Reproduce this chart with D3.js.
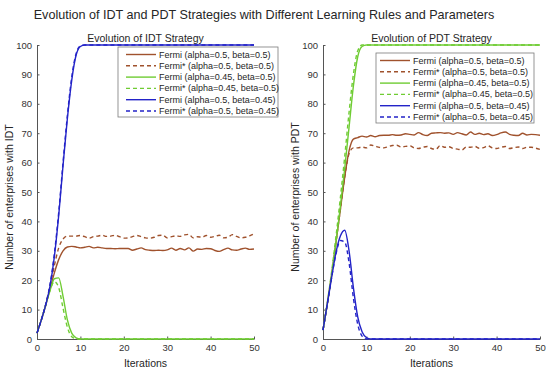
<!DOCTYPE html>
<html>
<head>
<meta charset="UTF-8">
<title>IDT and PDT Strategies</title>
<script src="https://d3js.org/d3.v7.min.js"></script>
<style>
  body { margin: 0; background: #fff; }
  text { font-family: "Liberation Sans", Arial, sans-serif; fill: #262626; }
  .axis path, .axis line { stroke: #555; }
  .axis text { font-size: 9.5px; fill: #333; }
  .series { fill: none; stroke-width: 1.4px; }
</style>
</head>
<body>
<svg width="550" height="375"></svg>
<script>
// iterations 0..50
var iterations = d3.range(0, 51);

var seriesNames = [
  "Fermi (alpha=0.5, beta=0.5)",
  "Fermi* (alpha=0.5, beta=0.5)",
  "Fermi (alpha=0.45, beta=0.5)",
  "Fermi* (alpha=0.45, beta=0.5)",
  "Fermi (alpha=0.5, beta=0.45)",
  "Fermi* (alpha=0.5, beta=0.45)"
];

// ---- IDT panel ----
var idtFermi_a05_b05 = [2,6.5,11.5,17,22.5,27,30,31.3,31.5,31.3,31,31.2,31.5,31,31.2,31,30.8,30.8,30.7,30.8,30.8,30.8,30.2,30.6,31,30.4,30.2,30.1,30.2,30.1,30.3,30.9,30.2,30.8,30.3,31,29.9,30.6,30.5,30.8,30.7,30.1,29.8,30.4,30.9,30.3,30.2,30.6,30.9,30.5,30.6];
var idtFermiS_a05_b05 = [2,6.5,11.5,18,25,31,34,35,35,35,35.2,34.8,34.3,34.8,35,35.3,34.9,35,35.3,34.8,34.3,34.4,34.8,35.2,34.8,34.4,34.3,34.6,35.2,35.3,34.4,34.8,35.1,34.9,35.4,35.6,34.4,34.8,34.6,35.2,34.6,34.9,35.3,34.4,34.6,35.5,34.9,34.4,34.6,35.1,35.8];
var idtFermi_a045_b05 = [2,6.5,11.5,16.5,20.5,20.8,14.5,6.5,2,0.4,0,0,0,0,0,0,0,0,0,0,0,0,0,0,0,0,0,0,0,0,0,0,0,0,0,0,0,0,0,0,0,0,0,0,0,0,0,0,0,0,0];
var idtFermiS_a045_b05 = [2,6.5,11.5,16.5,19.5,17.5,10.5,4,0.8,0.1,0,0,0,0,0,0,0,0,0,0,0,0,0,0,0,0,0,0,0,0,0,0,0,0,0,0,0,0,0,0,0,0,0,0,0,0,0,0,0,0,0];
var idtFermi_a05_b045 = [2,6.5,11.5,18,28,42,59,75,88,96.5,99.5,100,100,100,100,100,100,100,100,100,100,100,100,100,100,100,100,100,100,100,100,100,100,100,100,100,100,100,100,100,100,100,100,100,100,100,100,100,100,100,100];
var idtFermiS_a05_b045 = [2,6.5,11.8,18.5,29,43,60,76,89,97,99.7,100,100,100,100,100,100,100,100,100,100,100,100,100,100,100,100,100,100,100,100,100,100,100,100,100,100,100,100,100,100,100,100,100,100,100,100,100,100,100,100];

// ---- PDT panel ----
var pdtFermi_a05_b05 = [3,12,22,33,44,55,64,68,68.5,69,68.7,69.2,68.8,69.2,69.3,69.3,69.5,69.3,69.4,69.8,69.6,69.4,70.2,69.5,69.2,70,70.1,70.2,70,70.1,69.6,70.2,69.8,69.4,70.4,69.6,70,69.5,69.8,69.2,69.5,70.1,70.4,69.6,69.3,69.2,70,69.4,69.6,69.5,69.3];
var pdtFermiS_a05_b05 = [3,12,22,33,44,55,63,65,65,65.3,65,66,65.6,65.2,65,65.4,65.8,65.9,65.3,65.5,65.7,65,64.8,65.2,65.5,64.8,64.5,65.8,65.2,65.4,64.8,64.6,64.3,65.3,65.2,65.5,64.9,65.1,65.7,65,64.8,65.2,65.5,64.8,65.1,65.3,64.8,65.2,65.2,64.9,64.5];
var pdtFermi_a045_b05 = [3,12,22,33,45,58,72,86,96,99.5,100,100,100,100,100,100,100,100,100,100,100,100,100,100,100,100,100,100,100,100,100,100,100,100,100,100,100,100,100,100,100,100,100,100,100,100,100,100,100,100,100];
var pdtFermiS_a045_b05 = [3,12.5,23,35,48,62,77,90,98,100,100,100,100,100,100,100,100,100,100,100,100,100,100,100,100,100,100,100,100,100,100,100,100,100,100,100,100,100,100,100,100,100,100,100,100,100,100,100,100,100,100];
var pdtFermi_a05_b045 = [3,12,21,29.5,35,37,30,17.5,7.5,2.5,0.5,0,0,0,0,0,0,0,0,0,0,0,0,0,0,0,0,0,0,0,0,0,0,0,0,0,0,0,0,0,0,0,0,0,0,0,0,0,0,0,0];
var pdtFermiS_a05_b045 = [3,12,21,29,33.5,33,26,14,5,1,0,0,0,0,0,0,0,0,0,0,0,0,0,0,0,0,0,0,0,0,0,0,0,0,0,0,0,0,0,0,0,0,0,0,0,0,0,0,0,0,0,0];

var xTicks = [0, 10, 20, 30, 40, 50];
var yTicks = [0, 10, 20, 30, 40, 50, 60, 70, 80, 90, 100];

var colors = ["#a0522d", "#a0522d", "#6fcc33", "#6fcc33", "#2323c8", "#2323c8"];
var dashes = [null, "4,3", null, "4,3", null, "4,3"];

var svg = d3.select("svg");

svg.append("text")
  .attr("x", 264)
  .attr("y", 19)
  .attr("text-anchor", "middle")
  .style("font-size", "12.6px")
  .text("Evolution of IDT and PDT Strategies with Different Learning Rules and Parameters");

function drawPanel(opts) {
  var x = d3.scaleLinear().domain([0, 50]).range([opts.left, opts.right]);
  var y = d3.scaleLinear().domain([0, 100]).range([339, 45]);

  svg.append("g")
    .attr("class", "axis")
    .attr("transform", "translate(0,339)")
    .call(d3.axisBottom(x).tickValues(xTicks).tickSizeInner(-2.5).tickSizeOuter(0).tickPadding(5));

  svg.append("g")
    .attr("class", "axis")
    .attr("transform", "translate(" + opts.left + ",0)")
    .call(d3.axisLeft(y).tickValues(yTicks).tickSizeInner(-2.5).tickSizeOuter(0).tickPadding(5));

  svg.append("text")
    .attr("x", (opts.left + opts.right) / 2)
    .attr("y", 42)
    .attr("text-anchor", "middle")
    .style("font-size", "10.5px")
    .text(opts.title);

  svg.append("text")
    .attr("x", (opts.left + opts.right) / 2)
    .attr("y", 367)
    .attr("text-anchor", "middle")
    .style("font-size", "10.5px")
    .text("Iterations");

  svg.append("text")
    .attr("transform", "translate(" + (opts.left - 24) + ",197) rotate(-90)")
    .attr("text-anchor", "middle")
    .style("font-size", "10.5px")
    .text(opts.ylabel);

  var line = d3.line()
    .x(function(d, i) { return x(iterations[i]); })
    .y(function(d) { return y(d); })
    .curve(d3.curveMonotoneX);

  opts.series.forEach(function(s, i) {
    svg.append("path")
      .datum(s)
      .attr("class", "series")
      .attr("stroke", colors[i])
      .attr("stroke-dasharray", dashes[i])
      .attr("d", line);
  });

  // legend
  var lg = svg.append("g").attr("transform", "translate(" + opts.legX + "," + opts.legY + ")");
  lg.append("rect")
    .attr("width", opts.legW)
    .attr("height", 70)
    .attr("fill", "#fff")
    .attr("stroke", "#7a7a7a")
    .attr("stroke-width", 0.8);
  seriesNames.forEach(function(name, i) {
    var yy = 7.5 + i * 11.3;
    lg.append("line")
      .attr("x1", opts.legPad).attr("x2", opts.legPad + 30)
      .attr("y1", yy).attr("y2", yy)
      .attr("stroke", colors[i])
      .attr("stroke-width", 1.4)
      .attr("stroke-dasharray", dashes[i]);
    lg.append("text")
      .attr("x", opts.legPad + 33)
      .attr("y", yy + 3)
      .style("font-size", "9px")
      .text(name);
  });
}

drawPanel({
  left: 37, right: 254,
  title: "Evolution of IDT Strategy",
  ylabel: "Number of enterprises with IDT",
  legX: 118, legY: 47, legW: 160, legPad: 8,
  series: [idtFermi_a05_b05, idtFermiS_a05_b05, idtFermi_a045_b05, idtFermiS_a045_b05, idtFermi_a05_b045, idtFermiS_a05_b045]
});

drawPanel({
  left: 323, right: 540,
  title: "Evolution of PDT Strategy",
  ylabel: "Number of enterprises with PDT",
  legX: 376, legY: 53, legW: 158, legPad: 4,
  series: [pdtFermi_a05_b05, pdtFermiS_a05_b05, pdtFermi_a045_b05, pdtFermiS_a045_b05, pdtFermi_a05_b045, pdtFermiS_a05_b045]
});
</script>
</body>
</html>
